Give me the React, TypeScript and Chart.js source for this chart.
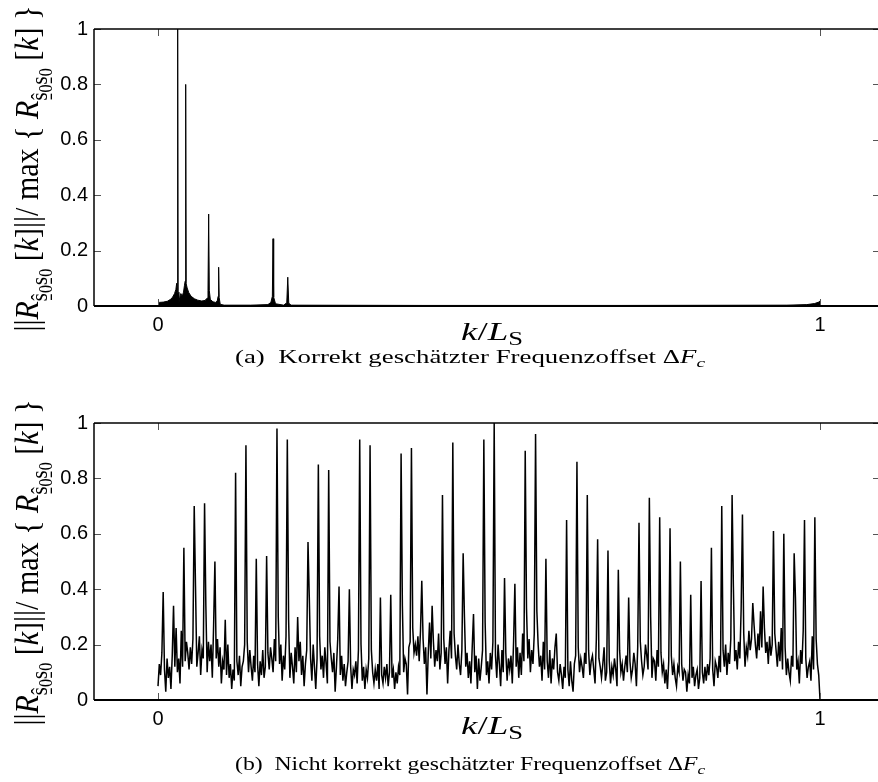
import React, { useEffect, useRef } from 'react';
import { Chart, registerables } from 'chart.js';

Chart.register(...registerables);

// ---------- axis ticks ----------
const X_TICKS = [0, 1];
const X_TICK_LABELS = ['0', '1'];
const Y_TICKS = [0, 0.2, 0.4, 0.6, 0.8, 1];
const Y_TICK_LABELS = ['0', '0.2', '0.4', '0.6', '0.8', '1'];
const X_MIN = -0.0967;
const X_MAX = 1.0906;

// ---------- panel (a): correctly estimated frequency offset ----------
const TOP_K = [
  0, 0.002, 0.008, 0.014, 0.019, 0.022, 0.025, 0.027, 0.0282, 0.029,
  0.0297, 0.0304, 0.0315, 0.0328, 0.0345, 0.0365, 0.0385, 0.04, 0.041, 0.0418,
  0.0426, 0.044, 0.0465, 0.05, 0.055, 0.06, 0.066, 0.071, 0.074, 0.0755,
  0.0765, 0.0775, 0.079, 0.083, 0.087, 0.0895, 0.0908, 0.0916, 0.0924, 0.094,
  0.1, 0.14, 0.166, 0.1705, 0.1727, 0.1737, 0.1747, 0.1775, 0.19, 0.1945,
  0.196, 0.1975, 0.201, 0.4, 0.7, 0.95, 0.98, 0.992, 0.998, 1.0,
];
const TOP_V = [
  0.012, 0.013, 0.014, 0.017, 0.024, 0.032, 0.045, 0.06, 0.082, 0.05,
  1.0, 0.05, 0.012, 0.03, 0.045, 0.035, 0.05, 0.075, 0.09, 0.8,
  0.08, 0.065, 0.048, 0.035, 0.026, 0.021, 0.018, 0.02, 0.028, 0.055,
  0.332, 0.055, 0.024, 0.015, 0.013, 0.018, 0.035, 0.14, 0.03, 0.006,
  0.003, 0.003, 0.005, 0.013, 0.035, 0.243, 0.032, 0.008, 0.003, 0.012,
  0.104, 0.01, 0.003, 0.002, 0.002, 0.003, 0.005, 0.009, 0.014, 0.018,
];

// ---------- panel (b): wrongly estimated frequency offset ----------
// samples at k = i / BOTTOM_SAMPLES, i = 0..BOTTOM_SAMPLES
const BOTTOM_SAMPLES = 512;
const BOTTOM_V = [
  0.05, 0.13, 0.09, 0.17, 0.39, 0.11, 0.03, 0.15,
  0.08, 0.12, 0.04, 0.16, 0.34, 0.12, 0.26, 0.10,
  0.15, 0.06, 0.25, 0.12, 0.55, 0.14, 0.21, 0.17,
  0.11, 0.19, 0.13, 0.22, 0.70, 0.41, 0.12, 0.17,
  0.23, 0.09, 0.18, 0.15, 0.71, 0.34, 0.10, 0.21,
  0.14, 0.20, 0.08, 0.27, 0.50, 0.15, 0.22, 0.12,
  0.19, 0.06, 0.14, 0.11, 0.29, 0.09, 0.20, 0.08,
  0.13, 0.04, 0.11, 0.07, 0.82, 0.14, 0.09, 0.16,
  0.05, 0.12, 0.14, 0.20, 0.92, 0.21, 0.10, 0.18,
  0.12, 0.07, 0.16, 0.10, 0.51, 0.13, 0.05, 0.14,
  0.09, 0.18, 0.08, 0.12, 0.52, 0.17, 0.11, 0.19,
  0.15, 0.10, 0.22, 0.14, 0.98, 0.30, 0.13, 0.20,
  0.07, 0.16, 0.11, 0.23, 0.94, 0.29, 0.08, 0.17,
  0.12, 0.06, 0.19, 0.10, 0.30, 0.14, 0.21, 0.09,
  0.16, 0.05, 0.13, 0.18, 0.57, 0.37, 0.15, 0.07,
  0.20, 0.12, 0.04, 0.15, 0.85, 0.23, 0.11, 0.16,
  0.08, 0.19, 0.13, 0.06, 0.83, 0.21, 0.15, 0.10,
  0.17, 0.03, 0.12, 0.22, 0.41, 0.09, 0.16, 0.07,
  0.13, 0.05, 0.10, 0.14, 0.40, 0.12, 0.04, 0.11,
  0.09, 0.14, 0.06, 0.18, 0.94, 0.20, 0.07, 0.12,
  0.04, 0.11, 0.08, 0.15, 0.92, 0.18, 0.10, 0.06,
  0.11, 0.07, 0.13, 0.04, 0.37, 0.09, 0.06, 0.12,
  0.08, 0.13, 0.05, 0.10, 0.38, 0.08, 0.11, 0.04,
  0.10, 0.06, 0.12, 0.09, 0.89, 0.34, 0.10, 0.15,
  0.13, 0.02, 0.19, 0.21, 0.91, 0.26, 0.17, 0.20,
  0.16, 0.23, 0.14, 0.25, 0.43, 0.22, 0.13, 0.19,
  0.02, 0.17, 0.28, 0.15, 0.34, 0.21, 0.12, 0.18,
  0.14, 0.24, 0.11, 0.17, 0.74, 0.22, 0.13, 0.19,
  0.06, 0.18, 0.25, 0.15, 0.93, 0.24, 0.16, 0.11,
  0.20, 0.13, 0.09, 0.18, 0.53, 0.30, 0.12, 0.17,
  0.08, 0.14, 0.06, 0.19, 0.31, 0.10, 0.16, 0.04,
  0.15, 0.07, 0.12, 0.18, 0.94, 0.28, 0.09, 0.14,
  0.06, 0.17, 0.11, 0.21, 1.00, 0.16, 0.08, 0.20,
  0.13, 0.05, 0.18, 0.10, 0.44, 0.17, 0.07, 0.15,
  0.11, 0.16, 0.06, 0.21, 0.42, 0.12, 0.19, 0.08,
  0.17, 0.09, 0.24, 0.14, 0.90, 0.33, 0.15, 0.22,
  0.10, 0.18, 0.13, 0.24, 0.96, 0.32, 0.20, 0.12,
  0.16, 0.07, 0.21, 0.11, 0.51, 0.14, 0.08, 0.18,
  0.06, 0.15, 0.11, 0.19, 0.24, 0.10, 0.07, 0.13,
  0.09, 0.04, 0.12, 0.08, 0.65, 0.11, 0.05, 0.14,
  0.07, 0.03, 0.13, 0.16, 0.86, 0.19, 0.10, 0.15,
  0.12, 0.08, 0.17, 0.13, 0.74, 0.18, 0.09, 0.14,
  0.16, 0.11, 0.06, 0.22, 0.58, 0.15, 0.12, 0.08,
  0.13, 0.19, 0.07, 0.10, 0.54, 0.14, 0.06, 0.12,
  0.09, 0.15, 0.11, 0.05, 0.47, 0.18, 0.10, 0.13,
  0.07, 0.12, 0.16, 0.10, 0.37, 0.14, 0.08, 0.11,
  0.17, 0.13, 0.05, 0.19, 0.64, 0.21, 0.14, 0.09,
  0.12, 0.20, 0.16, 0.11, 0.73, 0.30, 0.08, 0.15,
  0.14, 0.07, 0.18, 0.12, 0.66, 0.17, 0.10, 0.13,
  0.06, 0.11, 0.04, 0.14, 0.62, 0.16, 0.09, 0.13,
  0.08, 0.05, 0.12, 0.10, 0.50, 0.13, 0.07, 0.11,
  0.10, 0.03, 0.09, 0.06, 0.38, 0.08, 0.12, 0.05,
  0.09, 0.11, 0.04, 0.08, 0.43, 0.10, 0.06, 0.12,
  0.07, 0.13, 0.09, 0.15, 0.55, 0.11, 0.05, 0.14,
  0.12, 0.08, 0.16, 0.10, 0.70, 0.18, 0.12, 0.20,
  0.09, 0.17, 0.13, 0.22, 0.74, 0.41, 0.14, 0.18,
  0.11, 0.21, 0.15, 0.33, 0.67, 0.24, 0.12, 0.19,
  0.16, 0.25, 0.18, 0.22, 0.35, 0.27, 0.20, 0.15,
  0.24, 0.18, 0.32, 0.19, 0.41, 0.26, 0.17, 0.21,
  0.13, 0.23, 0.16, 0.20, 0.61, 0.24, 0.18, 0.12,
  0.21, 0.14, 0.26, 0.11, 0.60, 0.19, 0.09, 0.15,
  0.10, 0.07, 0.16, 0.12, 0.53, 0.37, 0.11, 0.14,
  0.06, 0.18, 0.13, 0.25, 0.65, 0.15, 0.08, 0.12,
  0.14, 0.07, 0.23, 0.11, 0.66, 0.22, 0.13, 0.09,
  0.0,
];

// ---------- text ----------
type Seg = { t: string; f: string; dy: number; ul?: boolean };
const SERIF = '"Liberation Serif", "DejaVu Serif", serif';
const SANS = '"Liberation Sans", Arial, sans-serif';

function ylabelSegs(B: number): Seg[] {
  const n = `${B}px ${SERIF}`;
  const it = `italic ${B}px ${SERIF}`;
  const sub = `${Math.round(B * 0.7)}px ${SERIF}`;
  const sub2 = `${Math.round(B * 0.52)}px ${SERIF}`;
  const d1 = B * 0.26;
  const d2 = B * 0.4;
  const rsub: Seg[] = [
    { t: 'R', f: it, dy: 0 },
    { t: 'ŝ', f: sub, dy: d1, ul: true },
    { t: '0', f: sub2, dy: d2 },
    { t: 's', f: sub, dy: d1, ul: true },
    { t: '0', f: sub2, dy: d2 },
  ];
  return [
    { t: '||', f: n, dy: 0 },
    ...rsub,
    { t: ' [', f: n, dy: 0 },
    { t: 'k', f: it, dy: 0 },
    { t: ']', f: n, dy: 0 },
    { t: '||', f: n, dy: 0 },
    { t: '/ ', f: n, dy: 0 },
    { t: 'max ', f: n, dy: 0 },
    { t: '{ ', f: n, dy: 0 },
    ...rsub,
    { t: ' [', f: n, dy: 0 },
    { t: 'k', f: it, dy: 0 },
    { t: ']', f: n, dy: 0 },
    { t: ' }', f: n, dy: 0 },
  ];
}

function xlabelSegs(B: number): Seg[] {
  return [
    { t: 'k', f: `italic ${B}px ${SERIF}`, dy: 0 },
    { t: '/', f: `${B}px ${SERIF}`, dy: 0 },
    { t: 'L', f: `italic ${B}px ${SERIF}`, dy: 0 },
    { t: 'S', f: `${Math.round(B * 0.7)}px ${SERIF}`, dy: B * 0.22 },
  ];
}

function captionSegs(text: string, B: number): Seg[] {
  return [
    { t: text, f: `${B}px ${SERIF}`, dy: 0 },
    { t: 'F', f: `italic ${B}px ${SERIF}`, dy: 0 },
    { t: 'c', f: `italic ${Math.round(B * 0.7)}px ${SERIF}`, dy: B * 0.2 },
  ];
}

const CAPTION_A = '(a)  Korrekt geschätzter Frequenzoffset Δ';
const CAPTION_B = '(b)  Nicht korrekt geschätzter Frequenzoffset Δ';

function drawRich(
  ctx: CanvasRenderingContext2D,
  segs: Seg[],
  x: number,
  y: number,
  rotate: boolean,
  targetLen: number,
  hScale: number
) {
  ctx.save();
  ctx.translate(x, y);
  if (rotate) ctx.rotate(-Math.PI / 2);
  let total = 0;
  const widths = segs.map((s) => {
    ctx.font = s.f;
    const w = ctx.measureText(s.t).width;
    total += w;
    return w;
  });
  const sx = targetLen > 0 ? targetLen / total : 1;
  ctx.scale(sx, hScale);
  ctx.fillStyle = '#000';
  ctx.textAlign = 'left';
  ctx.textBaseline = 'alphabetic';
  let cx = -total / 2;
  segs.forEach((s, i) => {
    ctx.font = s.f;
    ctx.fillText(s.t, cx, s.dy);
    if (s.ul) ctx.fillRect(cx + 1, s.dy + 3, widths[i] - 2, 1);
    cx += widths[i];
  });
  ctx.restore();
}

// ---------- chart panel ----------
type PanelProps = {
  top: number;
  height: number;
  xs: number[];
  ys: number[];
  fill: boolean;
  lineWidth: number;
  caption: string;
  captionY: number;
};

function Panel({ top, height, xs, ys, fill, lineWidth, caption, captionY }: PanelProps) {
  const ref = useRef<HTMLCanvasElement>(null);
  useEffect(() => {
    const canvas = ref.current!;
    const decor = {
      id: 'decor',
      afterDatasetsDraw(chart: any) {
        const { ctx, chartArea, scales } = chart;
        const { left, right, top: t, bottom } = chartArea;
        const line = (x1: number, y1: number, x2: number, y2: number) => {
          ctx.beginPath();
          ctx.moveTo(x1, y1);
          ctx.lineTo(x2, y2);
          ctx.stroke();
        };
        ctx.save();
        ctx.strokeStyle = '#555';
        ctx.lineWidth = 1;
        X_TICKS.forEach((v) => {
          const px = Math.round(scales.x.getPixelForValue(v)) + 0.5;
          line(px, bottom, px, bottom - 7);
          line(px, t, px, t + 7);
        });
        Y_TICKS.forEach((v) => {
          const py = Math.round(scales.y.getPixelForValue(v)) + 0.5;
          line(left, py, left + 7, py);
          line(right, py, right - 7, py);
        });
        ctx.strokeStyle = '#000';
        ctx.lineWidth = 1.5;
        line(left, t, right, t);
        line(left, t, left, bottom);
        line(right, t, right, bottom);
        ctx.lineWidth = 2;
        line(left, bottom, right, bottom);
        ctx.restore();
      },
      afterDraw(chart: any) {
        const { ctx, chartArea } = chart;
        const midY = (chartArea.top + chartArea.bottom) / 2;
        drawRich(ctx, ylabelSegs(26), 38, midY + 1, true, 326, 1.3);
        drawRich(ctx, xlabelSegs(25), 492, chartArea.bottom + 33.5, false, 62, 1);
        drawRich(ctx, captionSegs(caption, 18), 470, captionY, false, 470, 1);
      },
    };

    const chart = new Chart(canvas, {
      type: 'line',
      data: {
        datasets: [
          {
            data: xs.map((x, i) => ({ x, y: ys[i] })),
            borderColor: '#000',
            backgroundColor: '#000',
            borderWidth: lineWidth,
            pointRadius: 0,
            tension: 0,
            fill: fill ? 'origin' : false,
          },
        ],
      },
      options: {
        animation: false,
        responsive: false,
        maintainAspectRatio: false,
        events: [],
        layout: { padding: { left: 0, top: 29, right: 2, bottom: 0 } },
        plugins: { legend: { display: false }, tooltip: { enabled: false } },
        scales: {
          x: {
            type: 'linear',
            min: X_MIN,
            max: X_MAX,
            afterBuildTicks: (s: any) => {
              s.ticks = X_TICKS.map((v) => ({ value: v }));
            },
            afterFit: (s: any) => {
              s.height = height - 306;
            },
            ticks: {
              autoSkip: false,
              maxRotation: 0,
              padding: 7,
              color: '#000',
              font: { family: SANS, size: 20 },
              callback: (v: any) => X_TICK_LABELS[X_TICKS.indexOf(Number(v))] ?? '',
            },
            grid: { display: false, drawTicks: false },
            border: { display: false },
          },
          y: {
            type: 'linear',
            min: 0,
            max: 1,
            afterBuildTicks: (s: any) => {
              s.ticks = Y_TICKS.map((v) => ({ value: v }));
            },
            afterFit: (s: any) => {
              s.width = 94;
            },
            ticks: {
              autoSkip: false,
              padding: 6,
              color: '#000',
              font: { family: SANS, size: 20 },
              callback: (v: any) => {
                const i = Y_TICKS.findIndex((t) => Math.abs(t - Number(v)) < 1e-9);
                return i >= 0 ? Y_TICK_LABELS[i] : '';
              },
            },
            grid: { display: false, drawTicks: false },
            border: { display: false },
          },
        },
      },
      plugins: [decor],
    } as any);
    return () => chart.destroy();
  }, []);
  return (
    <canvas
      ref={ref}
      width={882}
      height={height}
      style={{ position: 'absolute', left: 0, top, width: 882, height }}
    />
  );
}

export default function App() {
  const bottomK = BOTTOM_V.map((_, i) => i / BOTTOM_SAMPLES);
  return (
    <div
      style={{
        position: 'absolute',
        left: 0,
        top: 0,
        width: 878,
        height: 782,
        overflow: 'hidden',
        background: '#fff',
      }}
    >
      <Panel top={0} height={375} xs={TOP_K} ys={TOP_V} fill={true} lineWidth={1} caption={CAPTION_A} captionY={363} />
      <Panel top={394} height={388} xs={bottomK} ys={BOTTOM_V} fill={false} lineWidth={1.5} caption={CAPTION_B} captionY={376} />
    </div>
  );
}
